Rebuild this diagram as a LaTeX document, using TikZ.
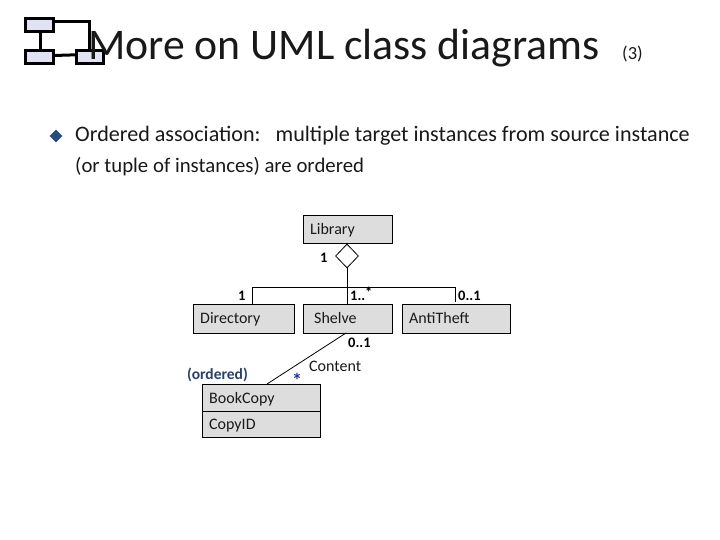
\documentclass[tikz,border=0pt]{standalone}
\usepackage{fontspec}
\setmainfont{Carlito}
\usetikzlibrary{shapes.geometric}
\definecolor{boxgray}{RGB}{221,221,221}
\definecolor{iconfill}{RGB}{226,226,245}
\definecolor{bulletblue}{RGB}{40,75,125}
\definecolor{ordblue}{RGB}{40,65,105}
\definecolor{starblue}{RGB}{30,50,150}
\definecolor{txt}{RGB}{25,25,25}
\tikzset{
 x=1pt,y=-1pt,
 cbox/.style={draw=black,fill=boxgray,line width=0.8pt,anchor=north west,inner sep=0pt},
 lbl/.style={anchor=base west,inner sep=0pt,font=\fontsize{16}{16}\selectfont,text=txt},
 mult/.style={anchor=base west,inner sep=0pt,font=\fontsize{14.5}{14}\selectfont\bfseries,text=black},
 icon/.style={draw=black,fill=iconfill,line width=3pt,anchor=north west,inner sep=0pt},
 iconline/.style={draw=black,line width=3pt},
 conn/.style={draw=black,line width=0.8pt},
}
\begin{document}
\begin{tikzpicture}
\useasboundingbox (0,0) rectangle (720,540);
% icon
\draw[iconline] (40,24) -- (40,56);
\coordinate (ic1) at (89,22);
\coordinate (ic2) at (89,56);
\draw[iconline] (38,22) -- (ic1) -- (ic2);
\draw[iconline] (38,56) -- (70,55) -- (88,55);
\node[icon,minimum width=28pt,minimum height=13pt] (i1) at (24,17.5) {};
\node[icon,minimum width=28pt,minimum height=13pt] (i2) at (24,49.5) {};
\node[icon,minimum width=27pt,minimum height=13pt] (i3) at (75,49.5) {};
% title
\node[anchor=base west,inner sep=0pt,font=\fontsize{43.7}{44}\selectfont,text=txt] (title) at (88,60) {More on UML class diagrams};
\node[anchor=base west,inner sep=0pt,font=\fontsize{18.5}{18}\selectfont,text=txt] (num) at (622,60) {(3)};
% bullet
\node[diamond,fill=bulletblue,inner sep=0pt,minimum width=13pt,minimum height=13pt] (bul) at (56,136) {};
\node[anchor=base west,inner sep=0pt,font=\fontsize{22.1}{22}\selectfont,text=txt] (l1) at (75,142) {Ordered association:\ \ \ multiple target instances from source instance};
\node[anchor=base west,inner sep=0pt,font=\fontsize{20.8}{21}\selectfont,text=txt] (l2) at (75,173) {(or tuple of instances) are ordered};
% classes
\node[cbox,minimum width=89pt,minimum height=28pt] (lib) at (303,215) {};
\node[lbl] (libt) at (310,234) {Library};
\node[cbox,minimum width=101pt,minimum height=29pt] (dir) at (192.5,304) {};
\node[lbl] (dirt) at (200,323) {Directory};
\node[cbox,minimum width=89pt,minimum height=29pt] (she) at (303,304) {};
\node[lbl] (shet) at (314,323) {Shelve};
\node[cbox,minimum width=108pt,minimum height=29pt] (ant) at (401.5,304) {};
\node[lbl] (antt) at (409,323) {AntiTheft};
\node[cbox,minimum width=118pt,minimum height=27pt] (bc) at (201.5,384) {};
\node[cbox,minimum width=118pt,minimum height=26pt] (cid) at (201.5,411) {};
\node[lbl] (bct) at (209,403) {BookCopy};
\node[lbl] (cidt) at (209,429) {CopyID};
% aggregation
\node[diamond,draw=black,fill=white,line width=0.8pt,inner sep=0pt,minimum width=23pt,minimum height=24pt] (agg) at (347,256) {};
\coordinate (bus) at (347,287);
\coordinate (busl) at (252,287);
\coordinate (busr) at (455,287);
\draw[conn] (agg.south) -- (bus);
\draw[conn] (busl) -- (busr);
\draw[conn] (busl) -- (busl |- dir.north);
\draw[conn] (bus) -- (bus |- she.north);
\coordinate (busr2) at (455,302);
\draw[conn] (busr) -- (busr2);
\coordinate (sh1) at (346,333);
\coordinate (bc1) at (267,384);
\draw[conn] (sh1) -- (bc1);
% multiplicities
\node[mult] (m1) at (320,262) {1};
\node[mult] (m2) at (238,300) {1};
\node[mult] (m3) at (350,300) {1..};
\node[mult] (m3s) at (365,297) {*};
\node[mult] (m4) at (458,300) {0..1};
\node[mult] (m5) at (348,347) {0..1};
\node[lbl] (cont) at (309,371) {Content};
\node[anchor=base west,inner sep=0pt,font=\fontsize{15.5}{16}\selectfont\bfseries,text=ordblue] (ord) at (187,379) {(ordered)};
\node[anchor=base west,inner sep=0pt,font=\fontsize{20}{20}\selectfont\bfseries,text=starblue] (star) at (292,387) {*};
\end{tikzpicture}
\end{document}
